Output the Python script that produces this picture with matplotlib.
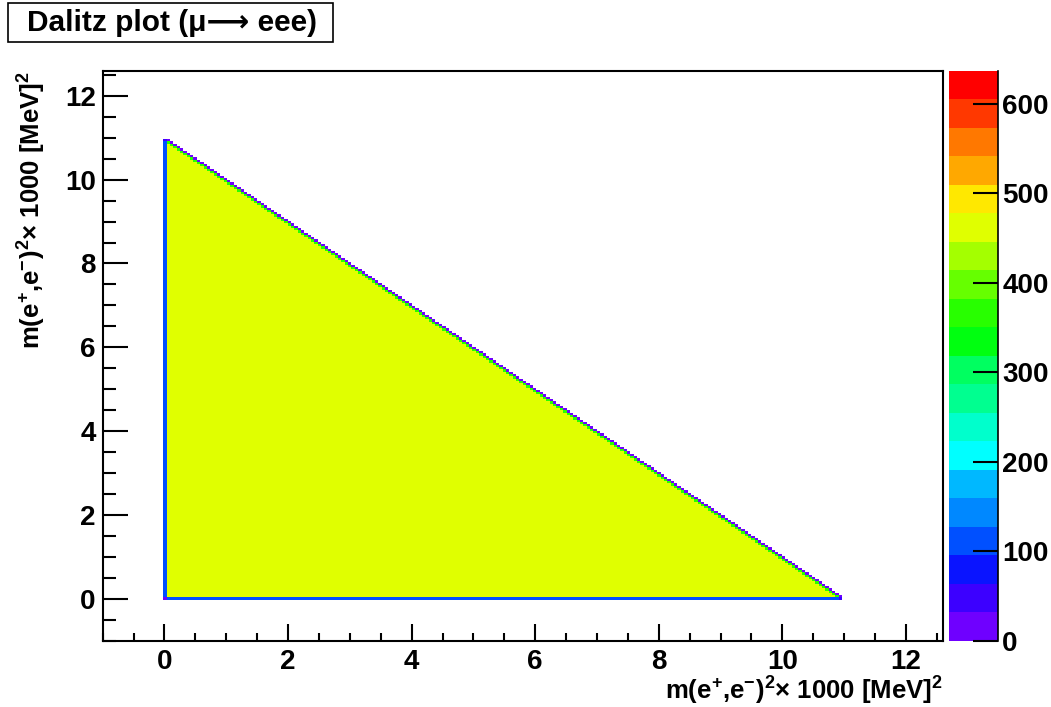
import numpy as np
import matplotlib
matplotlib.use('Agg')
import matplotlib.pyplot as plt
from matplotlib.colors import ListedColormap, Normalize
from matplotlib.patches import Rectangle
from matplotlib.ticker import MultipleLocator

plt.rcParams['font.family'] = ['Liberation Sans', 'DejaVu Sans']
plt.rcParams['font.weight'] = 'bold'
plt.rcParams['mathtext.fontset'] = 'custom'
plt.rcParams['mathtext.rm'] = 'Liberation Sans:bold'
plt.rcParams['mathtext.bf'] = 'Liberation Sans:bold'
plt.rcParams['mathtext.it'] = 'Liberation Sans:bold'
plt.rcParams['mathtext.default'] = 'bf'

# histogram binning (both axes)
x_range = (-1.0, 12.6)
y_range = (-1.0, 12.6)
n_bins = 250

# kinematic boundary
m2_min = 0.022
m2_sum_max = 10.965
level = 470.0          # counts in a full bin inside the triangle
z_max = 637.0

palette = ['#6f00ff', '#3c00ff', '#0a14ff', '#0050ff', '#0088ff',
           '#00b8ff', '#00ffff', '#00ffcc', '#00ff90', '#00ff60',
           '#00ff10', '#28ff00', '#66ff00', '#a4ff00', '#e0ff00',
           '#ffe800', '#ffa800', '#ff7800', '#ff3800', '#ff0000']
cbar_ticks = [0, 100, 200, 300, 400, 500, 600]
xticks = [0, 2, 4, 6, 8, 10, 12]
yticks = [0, 2, 4, 6, 8, 10, 12]

title = 'Dalitz plot (\u03bc\u27f6 eee)'
axis_title = 'm(e$^{+}$,e$^{-}$)$^{2}$\u00d7 1000 [MeV]$^{2}$'

W, H = 1051, 707

# bin contents: full level times fraction of bin inside the triangle
xe = np.linspace(x_range[0], x_range[1], n_bins + 1)
ye = np.linspace(y_range[0], y_range[1], n_bins + 1)
sub = 8
fx = np.linspace(x_range[0], x_range[1], n_bins * sub + 1)
fy = np.linspace(y_range[0], y_range[1], n_bins * sub + 1)
fxc = 0.5 * (fx[1:] + fx[:-1])
fyc = 0.5 * (fy[1:] + fy[:-1])
FX, FY = np.meshgrid(fxc, fyc)
inside = (FX >= m2_min) & (FY >= m2_min) & (FX + FY <= m2_sum_max)
frac = inside.reshape(n_bins, sub, n_bins, sub).mean(axis=(1, 3))
counts = np.ma.masked_where(frac <= 0, level * frac)

fig = plt.figure(figsize=(W / 100, H / 100), dpi=100)
ax = fig.add_axes([102.7 / W, 1 - 640.7 / H, (943 - 102.7) / W, (640.7 - 70.7) / H])
cax = fig.add_axes([949 / W, 1 - 640.7 / H, (998 - 949) / W, (640.7 - 70.7) / H])

cmap = ListedColormap(palette)
norm = Normalize(vmin=0, vmax=z_max)
mesh = ax.pcolormesh(xe, ye, counts, cmap=cmap, norm=norm, rasterized=True)

ax.set_xlim(x_range)
ax.set_ylim(y_range)
ax.set_xticks(xticks)
ax.set_yticks(yticks)
ax.xaxis.set_minor_locator(MultipleLocator(0.5))
ax.yaxis.set_minor_locator(MultipleLocator(0.5))
ax.tick_params(direction='in', top=False, right=False, which='both',
               width=1.5, labelsize=20)
ax.tick_params(axis='x', which='major', length=12.2, pad=6)
ax.tick_params(axis='x', which='minor', length=6)
ax.tick_params(axis='y', which='major', length=18, pad=5)
ax.tick_params(axis='y', which='minor', length=9)
for s in ax.spines.values():
    s.set_linewidth(1.5)

cb = fig.colorbar(mesh, cax=cax, ticks=cbar_ticks)
cb.outline.set_visible(False)
cax.plot([1, 1], [0, 1], color='k', lw=1.2, transform=cax.transAxes, clip_on=False)
cax.tick_params(direction='in', length=18, width=1.5, labelsize=20, pad=3)

fig.text(943 / W, 1 - 691 / H, axis_title, ha='right', va='center', fontsize=18.5)
fig.text(32 / W, 1 - 70.7 / H, axis_title, rotation=90, ha='center', va='top', fontsize=18.5)

fig.add_artist(Rectangle((8 / W, 1 - 42 / H), 325 / W, 39 / H, transform=fig.transFigure,
                         facecolor='white', edgecolor='black', lw=1.2))
fig.text(27 / W, 1 - 23 / H, title, ha='left', va='center', fontsize=21.5, fontweight='bold')

fig.savefig('out.png', dpi=100)
